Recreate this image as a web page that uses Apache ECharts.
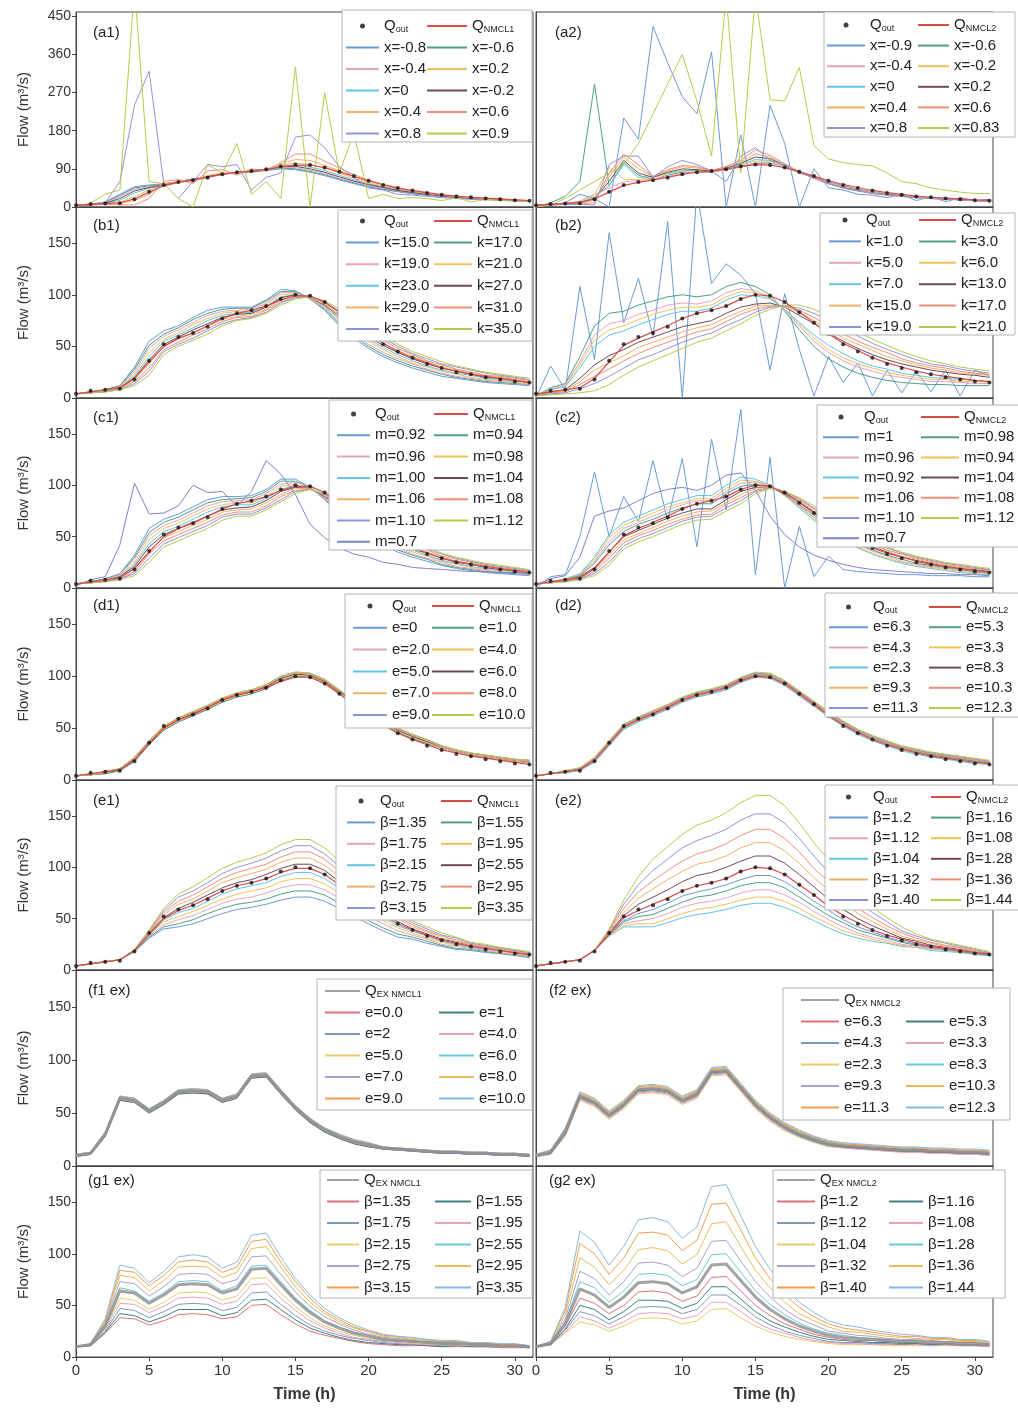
<!DOCTYPE html>
<html>
<head>
<meta charset="utf-8">
<title>Flow routing sensitivity</title>
<script src="https://cdn.jsdelivr.net/npm/echarts@6.0.0/dist/echarts.min.js"></script>
<style>
  body { margin: 0; background: #fff; }
  #main { width: 1018px; height: 1412px; }
</style>
</head>
<body>
<div id="main"></div>
<script>
// ---- data ----
var hours = [0,1,2,3,4,5,6,7,8,9,10,11,12,13,14,15,16,17,18,19,20,21,22,23,24,25,26,27,28,29,30,31];
var qOut   = [4,7,8,9,18,36,52,59,63,69,77,82,85,89,96,100,99,93,83,73,62,52,45,39,33,29,25,23,20,18,16,15];
var qNmcl1 = [4,6,8,10,19,35,50,58,63,70,77,82,85,89,95,99,99,93,83,72,62,53,45,39,34,29,26,23,21,19,17,15];
var qNmcl2 = [4,6,8,10,19,35,51,58,64,70,77,82,85,89,96,100,99,93,83,73,62,53,46,39,34,30,26,23,21,19,17,16];
var qEx1   = [10,12,30,64,62,52,60,70,71,70,62,66,85,86,70,55,43,34,28,23,20,17,16,15,14,13,13,12,12,11,11,10];
var qEx2   = [10,13,32,66,60,48,58,72,73,71,62,68,89,90,74,58,46,37,30,25,21,19,18,17,16,15,15,14,14,13,13,12];

// (a1) one array per curve
var a1Names = ['x=-0.8','x=-0.6','x=-0.4','x=0.2','x=0','x=-0.2','x=0.4','x=0.6','x=0.8','x=0.9'];
var a1Curves = [
  [4,6,12,30,48,52,55,60,66,72,78,80,82,86,90,88,82,74,64,55,47,41,36,31,28,25,22,20,18,17,15,14],
  [4,6,11,27,45,50,54,60,66,72,78,81,83,87,92,90,84,76,66,57,49,42,37,32,28,25,23,20,18,17,15,14],
  [4,6,10,24,42,48,53,59,66,72,78,81,84,88,93,93,87,79,68,59,51,44,38,33,29,26,23,21,19,17,15,14],
  [4,6,8,12,25,40,52,58,64,72,78,82,84,90,98,104,100,92,80,68,58,49,42,36,31,28,24,22,19,18,16,15],
  [4,6,9,16,33,44,51,58,65,71,77,82,85,89,96,99,94,86,75,64,55,47,40,35,30,27,24,21,19,17,16,15],
  [4,6,9,20,38,46,52,59,65,72,78,82,84,88,95,96,90,82,71,61,53,46,39,34,30,26,23,21,19,17,16,14],
  [4,5,7,8,15,30,55,60,62,75,80,80,86,88,102,112,110,98,86,72,61,51,43,37,32,28,25,22,20,18,16,15],
  [4,5,6,5,5,20,60,65,55,85,88,75,90,85,105,125,125,108,92,76,64,52,44,38,33,28,25,23,20,18,16,15],
  [3,5,10,60,240,320,55,20,60,100,95,100,40,70,80,165,170,140,95,70,45,40,30,28,25,22,20,18,17,16,15,14],
  [0,10,30,40,520,60,55,20,0,100,80,150,30,60,20,330,0,270,80,175,20,30,20,22,20,15,22,12,18,15,14,13]
];

// (a2) one array per curve
var a2Names = ['x=-0.9','x=-0.6','x=-0.4','x=-0.2','x=0','x=0.2','x=0.4','x=0.6','x=0.8','x=0.83'];
var a2Curves = [
  [0,4,10,30,20,0,210,160,426,340,260,220,366,0,170,0,240,150,0,90,45,40,30,28,22,30,15,25,12,22,15,18],
  [0,10,25,60,290,50,105,75,65,75,82,82,82,88,94,102,104,96,84,72,60,50,42,36,31,27,24,21,19,17,16,15],
  [4,6,9,14,30,45,60,62,66,72,80,82,83,88,96,104,104,95,82,70,58,48,41,35,30,26,23,21,19,17,15,14],
  [4,6,8,12,28,95,65,65,70,78,85,85,84,89,98,108,108,96,82,68,56,47,40,34,30,26,23,21,19,17,15,14],
  [4,6,8,11,24,50,100,70,72,80,86,86,85,90,100,112,110,97,82,68,56,46,39,33,29,26,23,21,19,17,15,14],
  [4,6,8,10,20,60,110,80,70,82,90,88,85,92,103,118,114,99,83,68,55,46,39,33,29,26,23,21,19,17,15,14],
  [4,5,7,9,16,70,118,90,72,85,95,92,86,94,106,125,118,100,83,68,55,45,38,33,28,25,23,21,19,17,15,14],
  [4,5,6,7,10,80,125,100,72,88,98,95,86,96,110,135,122,102,84,68,55,45,38,32,28,25,22,20,18,17,15,14],
  [3,5,6,6,5,100,120,120,70,95,110,100,85,60,120,140,110,100,80,70,55,45,38,32,28,25,22,20,18,17,15,14],
  [0,5,20,40,60,80,100,150,220,290,360,250,120,500,80,500,253,250,330,145,113,105,100,97,80,60,55,45,40,35,32,32]
];

// the remaining panels: one row per hour, one column per curve
var b1Names = ['k=15.0','k=17.0','k=19.0','k=21.0','k=23.0','k=27.0','k=29.0','k=31.0','k=33.0','k=35.0'];
var b1Rows = [
  [4,4,4,4,4,4,4,4,4,4],[6,6,6,6,6,5,5,5,5,5],[8,8,7,7,7,7,7,6,6,6],[12,12,11,11,10,10,9,9,8,8],
  [30,28,26,24,22,20,18,16,14,12],[55,51,48,44,40,37,33,29,26,22],[65,62,60,57,55,52,50,47,45,42],
  [70,68,66,63,61,59,57,54,52,50],[78,76,73,71,68,66,63,61,58,56],[85,82,80,77,75,72,70,67,65,62],
  [88,86,84,82,80,78,76,74,72,70],[88,87,85,84,82,81,79,78,76,75],[88,87,86,84,83,82,81,79,78,77],
  [95,94,92,91,89,88,86,85,83,82],[105,103,102,100,98,97,95,93,92,90],[104,103,102,101,100,100,99,98,97,96],
  [96,96,96,97,97,97,97,98,98,98],[85,86,87,88,89,90,91,92,93,94],[70,72,74,76,77,79,81,83,84,86],
  [58,60,62,64,66,69,71,73,75,78],[48,50,52,55,57,59,61,64,66,68],[40,42,44,47,49,51,53,56,58,60],
  [34,36,38,40,42,44,46,48,50,52],[29,31,33,34,36,38,40,42,43,45],[25,27,28,30,31,33,35,36,38,40],
  [21,23,24,26,27,29,30,32,33,35],[19,20,21,23,24,26,27,28,30,31],[17,18,19,20,22,23,24,25,27,28],
  [15,16,17,18,19,20,21,22,24,25],[14,15,16,17,18,19,20,21,22,23],[13,14,15,15,16,17,18,19,20,21],
  [12,13,13,14,15,15,16,17,18,19]
];

var b2Names = ['k=1.0','k=3.0','k=5.0','k=6.0','k=7.0','k=13.0','k=15.0','k=17.0','k=19.0','k=21.0'];
var b2Rows = [
  [0,2,2,2,2,2,2,2,2,2],[31,10,9,8,8,6,5,5,4,3],[8,14,13,12,11,8,7,6,5,4],[108,40,35,32,29,19,16,13,9,5],
  [37,70,61,56,50,32,27,21,14,7],[160,82,72,66,61,41,34,28,21,13],[73,84,75,70,65,47,41,36,29,22],
  [116,90,81,76,71,54,49,43,37,30],[60,94,85,81,76,59,54,49,42,36],[171,98,90,85,81,64,59,54,48,42],
  [0,100,92,88,84,69,64,59,54,48],[200,98,91,88,84,72,68,64,59,54],[111,100,94,90,87,75,71,67,63,58],
  [130,108,102,98,95,82,78,74,70,65],[119,112,106,103,100,88,84,81,76,72],[101,108,104,102,99,91,89,86,83,80],
  [27,100,98,97,96,92,90,89,88,86],[101,84,85,85,86,88,88,89,89,90],[47,66,70,72,73,80,83,85,87,90],
  [2,50,55,58,61,72,75,78,82,86],[40,38,44,47,51,63,66,70,75,79],[15,30,36,39,43,55,58,62,67,71],
  [34,24,30,33,36,48,52,55,60,64],[2,20,26,29,31,42,46,49,53,57],[27,17,22,25,28,37,40,44,47,51],
  [5,15,20,22,24,33,36,38,42,45],[26,14,18,20,22,30,32,34,37,40],[6,13,16,18,20,27,29,31,33,36],
  [27,13,16,18,19,25,27,29,31,33],[2,12,15,16,18,23,24,26,28,30],[27,12,14,16,17,22,23,24,26,28],
  [21,12,14,15,16,20,22,23,24,26]
];

var c1Names = ['m=0.92','m=0.94','m=0.96','m=0.98','m=1.00','m=1.04','m=1.06','m=1.08','m=1.10','m=1.12','m=0.7'];
var c1Rows = [
  [4,4,4,4,4,4,4,4,4,4,2],[6,6,6,6,6,5,5,5,5,5,8],[9,9,8,8,8,7,7,7,6,6,11],[14,13,13,12,11,11,10,9,9,8,42],
  [32,30,28,25,23,21,19,16,14,12,102],[58,54,51,47,43,40,36,33,29,25,72],[67,64,61,58,55,52,49,46,43,40,73],
  [72,69,66,63,60,58,55,52,49,46,80],[79,76,73,70,67,64,61,58,55,52,100],[86,83,80,77,74,70,67,64,61,58,93],
  [89,86,84,81,79,76,74,71,69,66,94],[89,87,85,83,81,78,76,74,72,70,80],[90,88,86,83,81,79,77,74,72,70,94],
  [96,94,92,89,87,85,83,80,78,76,124],[106,104,101,99,96,94,91,89,86,84,111],[106,104,103,101,100,98,97,95,94,92,91],
  [98,98,98,97,97,97,97,96,96,96,62],[86,87,87,88,89,89,90,91,91,92,49],[72,73,75,76,77,79,80,81,83,84,39],
  [60,62,64,65,67,69,71,72,74,76,33],[50,52,54,56,58,59,61,63,65,67,30],[42,44,46,48,50,51,53,55,57,59,25],
  [35,37,39,40,42,44,46,47,49,51,23],[30,32,33,35,37,38,40,42,43,45,20],[26,28,29,31,32,34,35,37,38,40,19],
  [22,23,25,26,27,29,30,31,33,34,18],[19,20,21,23,24,25,26,28,29,30,17],[17,18,19,20,21,23,24,25,26,27,16],
  [15,16,17,18,19,20,21,22,23,24,16],[14,15,16,17,18,18,19,20,21,22,15],[13,14,15,15,16,17,18,18,19,20,15],
  [12,13,13,14,15,15,16,17,17,18,14]
];

var c2Names = ['m=1','m=0.92','m=0.94','m=0.96','m=0.98','m=1.04','m=1.06','m=1.08','m=1.10','m=1.12','m=0.7'];
var c2Legend = ['m=1','m=0.98','m=0.96','m=0.94','m=0.92','m=1.04','m=1.06','m=1.08','m=1.10','m=1.12','m=0.7'];
var c2Rows = [
  [0,4,4,4,4,4,4,4,4,4,3],[11,6,6,6,6,5,5,5,5,5,9],[13,9,9,8,8,7,7,7,6,6,12],[50,14,13,13,12,11,10,9,9,8,30],
  [113,30,28,26,24,20,18,16,14,12,70],[50,52,49,45,42,35,32,29,25,22,75],[89,64,61,58,55,50,47,44,41,38,78],
  [65,70,67,64,62,56,53,51,48,45,85],[124,76,73,70,67,62,59,56,53,50,92],[66,82,79,76,73,68,65,62,59,56,96],
  [126,86,83,81,78,73,70,67,65,62,98],[40,90,87,85,82,77,74,71,69,66,95],[145,90,87,85,82,77,75,72,70,67,100],
  [76,100,97,94,92,86,83,81,78,75,110],[174,108,105,102,99,94,91,88,85,82,112],[13,106,104,103,101,98,97,95,94,92,95],
  [127,100,100,99,99,98,98,98,97,97,70],[0,90,90,91,91,92,93,93,94,94,52],[60,78,79,80,81,84,85,86,87,88,40],
  [11,66,68,69,71,74,75,77,78,80,32],[31,55,57,58,60,63,65,67,68,70,27],[18,46,48,49,51,54,55,57,58,60,23],
  [16,39,40,42,43,46,48,49,51,52,20],[15,33,34,36,37,40,42,43,45,46,18],[14,28,29,31,32,35,36,37,39,40,17],
  [13,24,25,26,28,30,31,33,34,35,16],[13,21,22,23,24,27,28,29,30,31,15],[12,19,20,21,22,24,25,26,27,28,14],
  [12,17,18,19,20,21,22,23,24,25,14],[12,15,16,17,18,19,20,21,22,23,13],[11,14,15,16,16,18,19,19,20,21,13],
  [11,13,14,14,15,16,17,18,18,19,12]
];

var d1Names = ['e=0','e=1.0','e=2.0','e=4.0','e=5.0','e=6.0','e=7.0','e=8.0','e=9.0','e=10.0'];
var d1Rows = [
  [4,4,4,4,4,4,4,4,4,4],[5,5,5,5,5,5,5,6,6,6],[6,6,7,7,7,7,7,8,8,8],[9,9,10,10,10,10,11,11,11,11],
  [18,18,19,19,20,20,21,21,22,22],[34,34,35,35,36,36,37,37,38,38],[48,48,49,49,50,50,51,51,52,52],
  [56,56,57,57,58,58,59,59,60,60],[62,62,63,63,64,64,65,65,66,66],[68,68,69,69,70,70,71,71,72,72],
  [75,75,76,76,77,77,78,78,79,79],[80,80,81,81,82,82,83,83,84,84],[83,83,84,84,85,85,86,86,87,87],
  [88,88,89,89,90,90,91,91,92,92],[96,96,97,97,98,98,99,99,100,100],[100,100,101,101,102,102,103,103,104,104],
  [99,99,100,100,101,101,102,102,103,103],[93,93,94,94,95,95,96,96,97,97],[83,83,84,84,85,85,86,86,87,87],
  [73,73,74,74,75,75,76,76,77,77],[63,63,64,64,65,65,66,66,67,67],[54,54,55,55,56,56,57,57,58,58],
  [46,46,47,47,48,48,49,49,50,50],[40,40,41,41,42,42,43,43,44,44],[35,35,36,36,37,37,38,38,39,39],
  [31,31,31,32,32,32,32,33,33,33],[27,27,27,28,28,28,28,29,29,29],[24,24,24,25,25,25,25,26,26,26],
  [22,22,22,23,23,23,23,24,24,24],[20,20,20,21,21,21,21,22,22,22],[18,18,18,19,19,19,19,20,20,20],
  [17,17,17,18,18,18,18,19,19,19]
];

var d2Names = ['e=6.3','e=5.3','e=4.3','e=3.3','e=2.3','e=8.3','e=9.3','e=10.3','e=11.3','e=12.3'];
var d2Rows = [
  [4,4,4,4,4,4,4,4,4,4],[6,6,6,6,6,6,6,6,6,6],[8,8,8,7,7,8,8,9,9,9],[10,10,10,9,9,11,11,11,11,12],
  [19,19,18,18,17,20,20,21,21,22],[35,34,34,33,33,36,36,37,37,38],[51,50,50,49,49,52,52,53,53,54],
  [58,57,57,56,56,59,59,60,60,61],[64,63,63,62,62,65,65,66,66,67],[70,69,69,68,68,71,71,72,72,73],
  [77,76,76,75,75,78,78,79,79,80],[82,81,81,80,80,83,83,84,84,85],[85,84,84,83,83,86,86,87,87,88],
  [89,88,88,87,87,90,90,91,91,92],[96,95,95,94,94,97,97,98,98,99],[101,100,100,99,99,102,102,103,103,104],
  [100,99,99,98,98,101,101,102,102,103],[93,92,92,91,91,94,94,95,95,96],[83,82,82,81,81,84,84,85,85,86],
  [73,72,72,71,71,74,74,75,75,76],[63,62,62,61,61,64,64,65,65,66],[54,53,53,52,52,55,55,56,56,57],
  [46,45,45,44,44,47,47,48,48,49],[40,39,39,38,38,41,41,42,42,43],[35,34,34,33,33,36,36,37,37,38],
  [30,30,29,29,28,31,31,32,32,33],[27,27,26,26,25,28,28,29,29,30],[24,24,23,23,22,25,25,26,26,27],
  [22,22,21,21,20,23,23,24,24,25],[20,20,19,19,18,21,21,22,22,23],[18,18,17,17,16,19,19,20,20,21],
  [16,16,15,15,15,17,17,18,18,19]
];

var e1Names = ['β=1.35','β=1.55','β=1.75','β=1.95','β=2.15','β=2.55','β=2.75','β=2.95','β=3.15','β=3.35'];
var e1Rows = [
  [4,4,4,4,4,4,4,4,4,4],[6,6,6,6,6,6,6,6,6,6],[8,8,8,8,8,8,8,8,8,8],[10,10,10,10,10,10,10,10,10,10],
  [18,18,19,19,19,19,19,19,20,20],[31,32,33,34,34,36,36,37,38,39],[40,42,44,47,49,51,54,56,58,60],
  [42,45,49,52,56,60,64,67,71,74],[45,49,53,57,60,66,69,73,77,81],[50,55,59,63,67,73,77,81,85,90],
  [55,60,65,69,74,80,85,89,94,99],[59,64,69,74,79,85,90,95,100,105],[61,66,71,77,82,88,94,99,104,109],
  [64,69,75,80,85,93,98,103,109,114],[68,74,80,86,91,99,105,110,116,122],[71,77,83,89,95,103,109,115,121,127],
  [71,77,83,89,95,103,109,115,121,127],[67,73,78,84,89,97,102,108,113,119],[60,65,70,75,80,86,91,96,101,106],
  [52,56,60,65,69,75,79,84,88,92],[45,48,52,56,60,64,68,72,76,79],[38,41,45,48,51,55,58,61,65,68],
  [32,35,38,41,43,47,50,52,55,58],[30,32,34,36,38,40,42,44,46,48],[26,28,30,31,33,35,37,38,40,42],
  [23,24,25,27,28,30,31,33,34,36],[20,21,23,24,25,27,28,29,31,32],[19,20,21,22,22,24,24,25,26,27],
  [17,18,19,20,20,22,22,23,24,25],[16,16,17,18,19,19,20,21,21,22],[14,15,15,16,17,17,18,19,19,20],
  [12,13,14,14,15,15,16,16,17,18]
];

var e2Names = ['β=1.04','β=1.08','β=1.12','β=1.16','β=1.2','β=1.28','β=1.32','β=1.36','β=1.40','β=1.44'];
var e2Legend = ['β=1.2','β=1.16','β=1.12','β=1.08','β=1.04','β=1.28','β=1.32','β=1.36','β=1.40','β=1.44'];
var e2Rows = [
  [4,4,4,4,4,4,4,4,4,4],[6,6,6,6,6,6,6,6,6,6],[8,8,8,8,8,8,8,8,8,8],[10,10,10,10,10,10,10,10,10,10],
  [19,19,19,19,19,19,19,19,19,19],[33,33,34,34,35,36,37,38,39,40],[42,43,45,47,48,53,56,60,64,68],
  [42,45,48,52,55,64,70,76,83,91],[42,45,50,54,59,71,79,87,97,108],[46,50,55,60,65,78,88,97,108,120],
  [51,55,61,66,72,86,96,106,119,132],[54,59,65,71,76,92,103,113,126,141],[56,61,67,73,79,95,106,117,131,146],
  [59,64,70,77,83,100,111,123,137,153],[63,68,75,82,88,106,119,131,146,163],[65,71,78,85,92,111,124,137,152,170],
  [65,71,78,85,92,111,124,137,152,170],[61,67,73,80,86,104,116,128,143,160],[55,60,66,71,77,93,104,115,128,143],
  [48,52,57,62,67,81,90,99,111,124],[41,45,49,53,58,69,78,86,95,107],[35,38,42,46,49,59,66,73,82,91],
  [31,34,36,39,42,50,55,60,67,74],[28,30,32,35,37,43,47,51,56,61],[26,27,29,31,32,37,40,43,47,51],
  [23,24,25,27,28,31,33,36,38,42],[22,22,23,24,25,28,29,31,33,35],[19,20,21,22,22,24,26,27,29,30],
  [18,19,19,20,20,22,23,24,26,27],[17,17,18,18,19,20,21,22,23,24],[15,16,16,16,17,18,18,19,20,21],
  [14,14,14,14,15,15,16,16,17,18]
];

var f1Names = ['e=0.0','e=1','e=2','e=4.0','e=5.0','e=6.0','e=7.0','e=8.0','e=9.0','e=10.0'];
var f1Rows = [
  [9,9,9,10,10,10,10,11,11,11],[11,11,11,12,12,12,12,13,13,13],[28,28,29,29,30,30,31,31,32,32],
  [62,62,63,63,64,64,65,65,66,66],[60,60,61,61,62,62,63,63,64,64],[50,50,51,51,52,52,53,53,54,54],
  [58,58,59,59,60,60,61,61,62,62],[68,68,69,69,70,70,71,71,72,72],[69,69,70,70,71,71,72,72,73,73],
  [68,68,69,69,70,70,71,71,72,72],[60,60,61,61,62,62,63,63,64,64],[64,64,65,65,66,66,67,67,68,68],
  [83,83,84,84,85,85,86,86,87,87],[84,84,85,85,86,86,87,87,88,88],[68,68,69,69,70,70,71,71,72,72],
  [53,53,54,54,55,55,56,56,57,57],[41,41,42,42,43,43,44,44,45,45],[32,32,33,33,34,34,35,35,36,36],
  [26,26,27,27,28,28,29,29,30,30],[21,21,22,22,23,23,24,24,25,25],[18,18,19,19,20,20,21,21,22,22],
  [16,16,16,17,17,17,17,18,18,18],[15,15,15,16,16,16,16,17,17,17],[14,14,14,15,15,15,15,16,16,16],
  [13,13,13,14,14,14,14,15,15,15],[12,12,12,13,13,13,13,14,14,14],[12,12,12,13,13,13,13,14,14,14],
  [11,11,11,12,12,12,12,13,13,13],[11,11,11,12,12,12,12,13,13,13],[10,10,10,11,11,11,11,12,12,12],
  [10,10,10,11,11,11,11,12,12,12],[9,9,9,10,10,10,10,11,11,11]
];

var f2Names = ['e=2.3','e=3.3','e=4.3','e=5.3','e=6.3','e=8.3','e=9.3','e=10.3','e=11.3','e=12.3'];
var f2Legend = ['e=6.3','e=5.3','e=4.3','e=3.3','e=2.3','e=8.3','e=9.3','e=10.3','e=11.3','e=12.3'];
var f2Rows = [
  [9,9,9,10,10,10,10,11,11,11],[11,11,12,12,13,13,14,14,15,15],[28,29,30,31,32,33,34,34,35,36],
  [62,63,64,65,66,67,68,68,69,70],[56,57,58,59,60,61,62,62,63,64],[44,45,46,47,48,49,50,50,51,52],
  [54,55,56,57,58,59,60,60,61,62],[68,69,70,71,72,73,74,74,75,76],[69,70,71,72,73,74,75,75,76,77],
  [67,68,69,70,71,72,73,73,74,75],[58,59,60,61,62,63,64,64,65,66],[64,65,66,67,68,69,70,70,71,72],
  [85,86,87,88,89,90,91,91,92,93],[86,87,88,89,90,91,92,92,93,94],[70,71,72,73,74,75,76,76,77,78],
  [54,55,56,57,58,59,60,60,61,62],[42,43,44,45,46,47,48,48,49,50],[33,34,35,36,37,38,39,39,40,41],
  [27,28,28,29,30,31,32,32,33,34],[22,23,23,24,25,26,27,27,28,28],[18,19,19,20,21,22,23,23,24,24],
  [17,17,18,18,19,20,20,21,21,22],[16,16,17,17,18,19,19,20,20,21],[15,15,16,16,17,18,18,19,19,20],
  [14,14,15,15,16,17,17,18,18,19],[13,13,14,14,15,16,16,17,17,18],[13,13,14,14,15,16,16,17,17,18],
  [12,12,13,13,14,15,15,16,16,17],[12,12,13,13,14,15,15,16,16,17],[11,11,12,12,13,14,14,15,15,16],
  [11,11,12,12,13,14,14,15,15,16],[10,10,11,11,12,13,13,14,14,15]
];

var g1Names = ['β=1.35','β=1.55','β=1.75','β=1.95','β=2.15','β=2.55','β=2.75','β=2.95','β=3.15','β=3.35'];
var g1Rows = [
  [10,10,10,10,10,10,10,10,10,10],[11,11,11,12,12,12,12,13,13,13],[23,24,25,27,28,31,33,34,36,37],
  [38,42,47,52,57,67,73,79,84,89],[37,40,45,51,55,64,71,77,82,86],[31,34,38,43,46,54,59,64,69,72],
  [35,39,44,49,53,62,68,74,79,83],[41,46,51,57,62,73,80,87,92,97],[42,46,52,58,63,74,81,88,94,99],
  [41,46,51,57,62,73,80,87,92,97],[37,40,45,51,55,64,71,77,82,86],[39,43,48,54,59,69,75,82,87,92],
  [50,55,62,70,76,88,97,105,112,118],[51,56,63,71,77,89,98,107,114,120],[41,46,51,57,62,73,80,87,92,97],
  [32,36,40,45,49,57,63,68,73,76],[25,28,31,35,38,45,49,53,57,60],[21,23,25,28,30,35,39,42,44,47],
  [18,19,21,23,25,29,32,34,36,38],[15,16,18,19,21,24,26,28,29,31],[13,14,16,17,18,21,22,24,25,26],
  [12,13,14,15,16,18,19,20,21,22],[11,12,13,14,15,16,18,19,20,20],[11,12,12,13,14,15,16,17,18,19],
  [11,11,12,12,13,14,15,16,17,17],[10,10,11,12,12,13,14,15,15,16],[10,11,11,12,12,13,14,15,15,16],
  [10,10,11,11,11,12,13,13,14,14],[10,10,11,11,11,12,13,13,14,14],[9,10,10,10,11,11,12,12,12,13],
  [9,10,10,10,11,11,12,12,12,13],[9,9,9,9,10,10,10,11,11,11]
];

var g2Names = ['β=1.04','β=1.08','β=1.12','β=1.16','β=1.2','β=1.28','β=1.32','β=1.36','β=1.40','β=1.44'];
var g2Legend = ['β=1.2','β=1.16','β=1.12','β=1.08','β=1.04','β=1.28','β=1.32','β=1.36','β=1.40','β=1.44'];
var g2Rows = [
  [10,10,10,10,10,10,10,10,10,10],[12,12,12,12,13,13,14,14,15,15],[23,24,26,27,30,34,37,41,45,48],
  [34,39,44,50,57,73,83,96,110,122],[31,35,40,46,52,67,76,87,100,111],[25,28,32,36,42,53,60,70,80,89],
  [30,34,39,44,50,64,73,84,96,107],[37,42,48,55,63,80,91,104,120,133],[38,43,49,55,64,81,92,106,121,135],
  [37,42,48,54,62,79,89,103,118,131],[32,37,42,47,54,69,78,90,103,115],[35,40,46,52,59,75,86,99,113,126],
  [46,53,60,68,77,99,112,129,148,165],[47,53,60,68,78,100,113,131,149,167],[38,44,50,56,64,82,93,107,123,137],
  [30,34,39,44,50,64,73,84,96,107],[24,27,31,35,40,51,58,67,76,85],[20,23,25,29,32,41,46,53,60,67],
  [17,19,21,24,27,33,37,42,48,53],[15,16,18,20,22,27,31,35,39,43],[13,14,15,17,19,23,25,29,32,35],
  [12,13,14,16,17,21,23,25,28,31],[12,13,14,15,16,19,21,24,26,29],[12,12,13,14,16,18,20,22,24,26],
  [11,12,13,14,15,17,18,20,22,24],[11,12,12,13,14,16,17,19,20,22],[11,12,13,13,14,16,17,18,20,21],
  [11,11,12,12,13,15,16,17,18,19],[11,12,12,13,13,15,15,17,18,19],[11,11,11,12,12,14,14,15,16,17],
  [11,11,11,12,12,14,14,15,16,17],[10,10,11,11,11,12,13,14,15,15]
];

// ---- layout and styles ----
var FONT = 'Liberation Sans, Arial, sans-serif';
var soft = ['#6a9ad6','#4f9f86','#e7a3bd','#efc25a','#62c3e6','#6b4b5b','#f2b06a','#ef8e78','#8f94d8','#b7c94a','#7f83cc'];
var deep = ['#e0707a','#3f7f86','#7f98b8','#e8a0c0','#e8cc6a','#6cc8d8','#a8a0d0','#e8bc5c','#f0a050','#8ab8e0'];
var rowTop = [12, 207, 398, 588, 780, 970, 1166];
var rowBottom = [207, 398, 588, 780, 970, 1166, 1357];
var colLeft = [76, 536];
var plotWidth = 457;
var tagY = [33, 226, 418, 606, 801, 991, 1181];

function byCurve(rows) {
  return rows[0].map(function (_, j) { return rows.map(function (r) { return r[j]; }); });
}
function pairs(vals) {
  return hours.map(function (h, k) { return [h, vals[k]]; });
}

var panels = [
  {id:'a1', row:0, col:0, tag:'(a1)', names:a1Names, curves:a1Curves, ref:'Q_NMCL1', refData:qNmcl1, pal:soft,
   box:[342,10,190,132], c1:[345,33], c2:[426,40], top:18, pitch:21.5},
  {id:'a2', row:0, col:1, tag:'(a2)', names:a2Names, curves:a2Curves, ref:'Q_NMCL2', refData:qNmcl2, pal:soft,
   box:[824,12,191,125], c1:[826,38], c2:[917,31], top:17, pitch:20.6},
  {id:'b1', row:1, col:0, tag:'(b1)', names:b1Names, curves:byCurve(b1Rows), ref:'Q_NMCL1', refData:qNmcl1, pal:soft,
   box:[338,210,194,131], c1:[345,33], c2:[433,38], top:213, pitch:21.6},
  {id:'b2', row:1, col:1, tag:'(b2)', names:b2Names, curves:byCurve(b2Rows), ref:'Q_NMCL2', refData:qNmcl2, pal:soft,
   box:[820,213,195,122], c1:[828,32], c2:[918,37], top:212, pitch:21.4},
  {id:'c1', row:2, col:0, tag:'(c1)', names:c1Names, curves:byCurve(c1Rows), ref:'Q_NMCL1', refData:qNmcl1, pal:soft,
   box:[329,400,203,150], c1:[336,33], c2:[433,34], top:406, pitch:21.3},
  {id:'c2', row:2, col:1, tag:'(c2)', names:c2Names, legend:c2Legend, curves:byCurve(c2Rows), ref:'Q_NMCL2', refData:qNmcl2, pal:soft,
   box:[817,405,210,142], c1:[822,36], c2:[920,38], top:409, pitch:20.2},
  {id:'d1', row:3, col:0, tag:'(d1)', names:d1Names, curves:byCurve(d1Rows), ref:'Q_NMCL1', refData:qNmcl1, pal:soft,
   box:[345,594,187,134], c1:[352,34], c2:[431,42], top:598, pitch:21.8},
  {id:'d2', row:3, col:1, tag:'(d2)', names:d2Names, curves:byCurve(d2Rows), ref:'Q_NMCL2', refData:qNmcl2, pal:soft,
   box:[825,593,195,124], c1:[828,39], c2:[928,32], top:599, pitch:20.2},
  {id:'e1', row:4, col:0, tag:'(e1)', names:e1Names, curves:byCurve(e1Rows), ref:'Q_NMCL1', refData:qNmcl1, pal:soft,
   box:[336,786,196,134], c1:[346,28], c2:[440,31], top:793, pitch:21.4},
  {id:'e2', row:4, col:1, tag:'(e2)', names:e2Names, legend:e2Legend, curves:byCurve(e2Rows), ref:'Q_NMCL2', refData:qNmcl2, pal:soft,
   box:[825,785,195,125], c1:[828,39], c2:[930,30], top:789, pitch:20.6},
  {id:'f1', row:5, col:0, tag:'(f1 ex)', names:f1Names, curves:byCurve(f1Rows), ref:'Q_EX NMCL1', refData:qEx1, pal:deep, ex:true,
   box:[317,979,215,131], c1:[324,35], c2:[438,35], top:983, pitch:21.5},
  {id:'f2', row:5, col:1, tag:'(f2 ex)', names:f2Names, legend:f2Legend, curves:byCurve(f2Rows), ref:'Q_EX NMCL2', refData:qEx2, pal:deep, ex:true,
   box:[783,988,227,132], c1:[800,38], c2:[905,38], top:992, pitch:21.5},
  {id:'g1', row:6, col:0, tag:'(g1 ex)', names:g1Names, curves:byCurve(g1Rows), ref:'Q_EX NMCL1', refData:qEx1, pal:deep, ex:true,
   box:[320,1170,212,128], c1:[326,32], c2:[434,36], top:1172, pitch:21.5},
  {id:'g2', row:6, col:1, tag:'(g2 ex)', names:g2Names, legend:g2Legend, curves:byCurve(g2Rows), ref:'Q_EX NMCL2', refData:qEx2, pal:deep, ex:true,
   box:[773,1170,232,128], c1:[776,38], c2:[888,34], top:1172, pitch:21.5}
];

function legendText(name) {
  var s = name.split('|')[1];
  if (s.indexOf('Q_') === 0) return '{q|Q}{s|' + s.slice(2) + '}';
  return s;
}
// legend entry: plain line (the line icon otherwise carries a centre dot)
function lineEntry(name) {
  return {name: name, itemStyle: {opacity: 0}};
}
var legendBase = {
  orient: 'vertical', selectedMode: false, padding: 0, itemHeight: 5, z: 20,
  formatter: legendText,
  textStyle: {
    fontFamily: FONT, fontSize: 15, color: '#222', lineHeight: 16,
    rich: {
      q: {fontFamily: FONT, fontSize: 15, lineHeight: 16, color: '#222'},
      s: {fontFamily: FONT, fontSize: 9, lineHeight: 11, verticalAlign: 'bottom', color: '#222'}
    }
  }
};

var grids = [], xAxes = [], yAxes = [], series = [], legends = [], graphics = [];

panels.forEach(function (p, i) {
  var bottomRow = p.row === 6;
  var isLeft = p.col === 0;
  var topRow = p.row === 0;
  grids.push({
    left: colLeft[p.col], top: rowTop[p.row], width: plotWidth,
    height: rowBottom[p.row] - rowTop[p.row],
    show: true, borderColor: '#444', borderWidth: 1, backgroundColor: 'transparent'
  });
  xAxes.push({
    gridIndex: i, type: 'value', min: 0, max: 31.24, interval: 5,
    axisLine: {show: true, lineStyle: {color: '#444'}},
    axisTick: {show: bottomRow, length: 4, lineStyle: {color: '#444'}},
    axisLabel: {show: bottomRow, showMaxLabel: false, fontFamily: FONT, fontSize: 15, color: '#333', margin: 6},
    splitLine: {show: false},
    name: bottomRow ? 'Time (h)' : '', nameLocation: 'middle', nameGap: 30,
    nameTextStyle: {fontFamily: FONT, fontSize: 16, fontWeight: 'bold', color: '#333'}
  });
  yAxes.push({
    gridIndex: i, type: 'value', min: 0, max: topRow ? 460 : 185, interval: topRow ? 90 : 50,
    axisLine: {show: true, lineStyle: {color: '#444'}},
    axisTick: {show: isLeft, length: 4, lineStyle: {color: '#444'}},
    axisLabel: {show: isLeft, showMaxLabel: false, fontFamily: FONT, fontSize: 14, color: '#333', margin: 5},
    splitLine: {show: false},
    name: isLeft ? 'Flow (m³/s)' : '', nameLocation: 'middle', nameGap: 45,
    nameTextStyle: {fontFamily: FONT, fontSize: 15, color: '#333'}
  });

  var order = p.legend || p.names;
  p.names.forEach(function (nm, j) {
    var color = p.pal[order.indexOf(nm)];
    series.push({
      type: 'line', name: p.id + '|' + nm, xAxisIndex: i, yAxisIndex: i,
      data: pairs(p.curves[j]), symbol: 'none', silent: true,
      lineStyle: {width: 1, color: color}, itemStyle: {color: color}, z: 2
    });
  });
  if (p.ex) {
    series.push({
      type: 'line', name: p.id + '|' + p.ref, xAxisIndex: i, yAxisIndex: i,
      data: pairs(p.refData), symbol: 'none', silent: true,
      lineStyle: {width: 3, color: '#8c8c8c', opacity: 0.8}, itemStyle: {color: '#8c8c8c'}, z: 3
    });
  } else {
    series.push({
      type: 'line', name: p.id + '|' + p.ref, xAxisIndex: i, yAxisIndex: i,
      data: pairs(p.refData), symbol: 'none', silent: true,
      lineStyle: {width: 1.2, color: '#dd4b4b'}, itemStyle: {color: '#dd4b4b'}, z: 3
    });
    series.push({
      type: 'scatter', name: p.id + '|Q_out', xAxisIndex: i, yAxisIndex: i,
      data: pairs(qOut), symbol: 'circle', symbolSize: 4, silent: true,
      itemStyle: {color: '#111'}, z: 4
    });
  }

  // two legend columns inside a framed box
  var col1 = [], col2 = [];
  if (p.ex) {
    col1.push(lineEntry(p.id + '|' + p.ref));
  } else {
    col1.push({name: p.id + '|Q_out'});
    col2.push(lineEntry(p.id + '|' + p.ref));
  }
  order.forEach(function (nm, j) { (j % 2 === 0 ? col1 : col2).push(lineEntry(p.id + '|' + nm)); });
  legends.push(Object.assign({}, legendBase, {
    left: p.c1[0], top: p.top, itemWidth: p.c1[1], itemGap: p.pitch - 16, data: col1
  }));
  legends.push(Object.assign({}, legendBase, {
    left: p.c2[0], top: p.ex ? p.top + p.pitch : p.top, itemWidth: p.c2[1], itemGap: p.pitch - 16, data: col2
  }));

  graphics.push({
    type: 'rect', silent: true, z: 10,
    shape: {x: p.box[0], y: p.box[1], width: p.box[2], height: p.box[3]},
    style: {fill: '#fff', stroke: '#b4b4b4', lineWidth: 1}
  });
  graphics.push({
    type: 'text', silent: true, z: 10,
    x: isLeft ? (p.ex ? 88 : 93) : (p.ex ? 549 : 555), y: tagY[p.row],
    style: {text: p.tag, font: '15px ' + FONT, fill: '#222', verticalAlign: 'middle'}
  });
});

var chart = echarts.init(document.getElementById('main'));
chart.setOption({
  animation: false,
  backgroundColor: '#fff',
  grid: grids,
  xAxis: xAxes,
  yAxis: yAxes,
  legend: legends,
  graphic: graphics,
  series: series
});
</script>
</body>
</html>
